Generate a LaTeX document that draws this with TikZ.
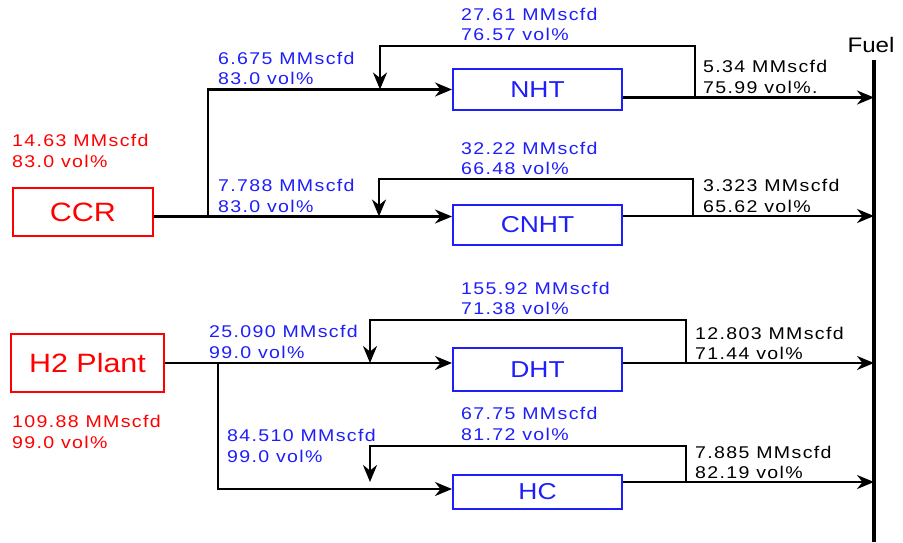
\documentclass[tikz,border=0pt]{standalone}
\usepackage{fontspec}
\setmainfont{Liberation Sans}[FakeStretch=1.15]
\newfontfamily\flowfont{Liberation Sans}[FakeStretch=1.15, LetterSpace=8]
\usetikzlibrary{shapes, positioning, arrows.meta}
\definecolor{flowblue}{RGB}{30,30,250}
\definecolor{flowred}{RGB}{255,0,0}
\newcommand{\dimg}{\flowfont\fontsize{17}{20.5}\selectfont}
\newcommand{\dunit}{\fontsize{23}{26}\selectfont}
\newcommand{\dsrc}{\fontsize{26.5}{29}\selectfont}
\tikzstyle{src}=[rectangle, align=center, line width=2pt, draw=flowred, text=flowred, font=\dsrc, inner sep=0pt]
\tikzstyle{unit}=[rectangle, align=center, line width=2pt, draw=flowblue, text=flowblue, font=\dunit, inner sep=0pt, minimum width=169pt]
\tikzstyle{dati}=[anchor=north west, align=left, inner sep=0pt, font=\dimg]
\tikzstyle{linea}=[line width=2.4pt, draw=black]
\tikzstyle{flusso}=[-{Stealth[length=17pt, width=14pt, inset=5.5pt]}, line width=2.4pt, draw=black]
\tikzstyle{collettore}=[line width=4pt, draw=black]

\begin{document}
\begin{tikzpicture}[x=1pt, y=-1pt, auto]
    \useasboundingbox (0,0) rectangle (903,542);

    \node [src, minimum width=140pt, minimum height=48pt] (ccr) at (83,212) {CCR};
    \node [src, minimum width=153pt, minimum height=58pt] (h2) at (87.5,363) {H2 Plant};

    \node [unit, minimum height=41pt] (nht) at (537.5,89.5) {NHT};
    \node [unit, below = 93pt of nht, minimum height=40pt] (cnht) {CNHT};
    \node [unit, below = 101pt of cnht, minimum height=43pt] (dht) {DHT};
    \node [unit, below = 82pt of dht, minimum height=34pt] (hc) {HC};

    \coordinate (fueltop) at (874,60);
    \coordinate (fuelbot) at (874,542);
    \draw [collettore] (fueltop) -- (fuelbot);
    \node [anchor=base, font=\fontsize{21}{24}\selectfont, inner sep=0pt] (fuel) at (871,52.5) {Fuel};

    \coordinate (ccrsplit) at (208,216.5);
    \draw [linea] (ccr.east |- ccrsplit) -- (ccrsplit);
    \draw [flusso] (ccrsplit) |- (nht.west);
    \draw [flusso] (ccrsplit) -- (cnht.west |- ccrsplit);

    \coordinate (h2split) at (218,363);
    \draw [flusso] (h2.east) -- (dht.west |- h2.east);
    \draw [flusso] (h2split) |- ([yshift=3pt]hc.west);

    \coordinate (nhtout) at (695,97.5);
    \coordinate (nhtrec) at (380,46);
    \draw [flusso] (nht.east |- nhtout) -- (fueltop |- nhtout);
    \draw [flusso] (nhtout) |- (nhtrec) -- (nhtrec |- nht.west);

    \coordinate (cnhtout) at (693,216);
    \coordinate (cnhtrec) at (379,179);
    \draw [flusso] (cnht.east |- cnhtout) -- (fueltop |- cnhtout);
    \draw [flusso] (cnhtout) |- (cnhtrec) -- (cnhtrec |- ccrsplit);

    \coordinate (dhtout) at (686,363);
    \coordinate (dhtrec) at (370,320);
    \draw [flusso] (dht.east |- dhtout) -- (fueltop |- dhtout);
    \draw [flusso] (dhtout) |- (dhtrec) -- (dhtrec |- h2.east);

    \coordinate (hcout) at (686,482);
    \coordinate (hcrec) at (370,446);
    \draw [flusso] (hcout -| hc.east) -- (fueltop |- hcout);
    \draw [flusso] (hcout) |- (hcrec) -- (hcrec |- hcout);

    \node [dati, text=flowred] (ccrdati) at (12,134) {14.63 MMscfd\\83.0 vol\%};
    \node [dati, text=flowred] (h2dati) at (12,415) {109.88 MMscfd\\99.0 vol\%};

    \node [dati, text=flowblue] (nhtin) at (218,51.5) {6.675 MMscfd\\83.0 vol\%};
    \node [dati, text=flowblue] (nhtric) at (461,7.5) {27.61 MMscfd\\76.57 vol\%};
    \node [dati] (nhtfuel) at (703,60) {5.34 MMscfd\\75.99 vol\%.};

    \node [dati, text=flowblue] (cnhtin) at (218,179) {7.788 MMscfd\\83.0 vol\%};
    \node [dati, text=flowblue] (cnhtric) at (461,141.5) {32.22 MMscfd\\66.48 vol\%};
    \node [dati] (cnhtfuel) at (703,179) {3.323 MMscfd\\65.62 vol\%};

    \node [dati, text=flowblue] (dhtin) at (209,325) {25.090 MMscfd\\99.0 vol\%};
    \node [dati, text=flowblue] (dhtric) at (461,281.5) {155.92 MMscfd\\71.38 vol\%};
    \node [dati] (dhtfuel) at (695,326.5) {12.803 MMscfd\\71.44 vol\%};

    \node [dati, text=flowblue] (hcin) at (227,429) {84.510 MMscfd\\99.0 vol\%};
    \node [dati, text=flowblue] (hcric) at (461,407) {67.75 MMscfd\\81.72 vol\%};
    \node [dati] (hcfuel) at (695,445.5) {7.885 MMscfd\\82.19 vol\%};
  \end{tikzpicture}
\end{document}
